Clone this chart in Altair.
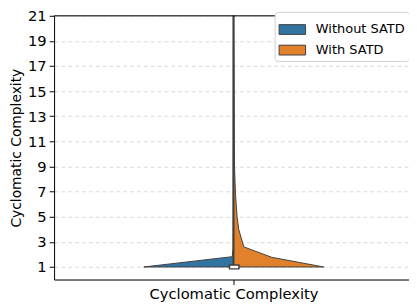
import altair as alt
import pandas as pd

# Data (split violin, half-widths in relative density units)
groups = ["Without SATD", "With SATD"]
colors = ["#3274a1", "#e1812c"]

blue_values = [1.0, 1.82, 2.5, 21.0]
blue_density = [1.0, 0.014, 0.005, 0.002]

orange_values = [1.0, 1.77, 2.6, 4.0, 5.0, 6.8, 9.0, 21.0]
orange_density = [1.005, 0.426, 0.115, 0.058, 0.040, 0.022, 0.011, 0.003]

whisker_low = 1.0
whisker_high = 21.0
box_low = 0.85
box_high = 1.15

y_ticks = [1, 3, 5, 7, 9, 11, 13, 15, 17, 19, 21]
x_label = "Cyclomatic Complexity"

rows = []
for v, d in zip(blue_values, blue_density):
    rows.append({"value": v, "lo": -d, "hi": 0.0, "group": groups[0]})
for v, d in zip(orange_values, orange_density):
    rows.append({"value": v, "lo": 0.0, "hi": d, "group": groups[1]})
df = pd.DataFrame(rows)

FONT = "DejaVu Sans"
x_scale = alt.Scale(domain=[-2.0, 1.956], nice=False, zero=False)
y_scale = alt.Scale(domain=[0, 21], nice=False, zero=False)

symbol_path = "M-1,-0.37L1,-0.37L1,0.37L-1,0.37Z"

violin = alt.Chart(df).mark_area(
    orient="horizontal", stroke="#3f3f3f", strokeWidth=1, opacity=1, fillOpacity=1
).encode(
    y=alt.Y("value:Q", scale=y_scale,
            axis=alt.Axis(values=y_ticks, tickCount=21, title="Cyclomatic Complexity",
                          grid=True, gridDash=[4, 3], gridColor="#cfcfcf",
                          gridWidth=0.8, tickSize=5, tickColor="black",
                          domainColor="black", labelFontSize=15,
                          titleFontSize=14.1, titleFontWeight="normal",
                          labelPadding=3, titlePadding=4, labelColor="black",
                          titleColor="black", labelFont=FONT, titleFont=FONT,
                          labelOverlap=False)),
    x=alt.X("lo:Q", scale=x_scale, stack=None,
            axis=alt.Axis(values=[0], labelExpr=f"'{x_label}'", title=None,
                          grid=False, tickSize=5, tickColor="black",
                          domainColor="black", labelFontSize=15,
                          labelPadding=2, labelColor="black", labelFont=FONT)),
    x2="hi:Q",
    color=alt.Color("group:N", sort=groups,
                    scale=alt.Scale(domain=groups, range=colors),
                    legend=alt.Legend(title=None, orient="none",
                                      legendX=225, legendY=-4,
                                      symbolType=symbol_path, symbolSize=729,
                                      symbolStrokeColor="#3f3f3f",
                                      symbolStrokeWidth=1, symbolOpacity=1,
                                      labelFontSize=13.2, labelFont=FONT,
                                      labelColor="black", labelOffset=10,
                                      labelLimit=300,
                                      padding=4, fillColor="white",
                                      strokeColor="#d0d0d0", cornerRadius=3,
                                      rowPadding=0)),
)

whisker_df = pd.DataFrame({"low": [whisker_low], "high": [whisker_high], "c": [0.0]})
whisker = alt.Chart(whisker_df).mark_rule(color="#3f3f3f", strokeWidth=2).encode(
    x=alt.X("c:Q", scale=x_scale), y=alt.Y("low:Q", scale=y_scale), y2="high:Q"
)

box_df = pd.DataFrame({"low": [box_low], "high": [box_high],
                       "l": [-0.045], "r": [0.06]})
box = alt.Chart(box_df).mark_rect(fill="white", stroke="#3f3f3f", strokeWidth=1.5).encode(
    x=alt.X("l:Q", scale=x_scale), x2="r:Q",
    y=alt.Y("low:Q", scale=y_scale), y2="high:Q"
)

top_df = pd.DataFrame({"top": [21.0]})
top_line = alt.Chart(top_df).mark_rule(color="black", strokeWidth=1).encode(
    y=alt.Y("top:Q", scale=y_scale)
)

chart = alt.layer(violin, whisker, box, top_line).properties(
    width=362, height=269,
    autosize=alt.AutoSizeParams(type="none"),
    padding={"left": 47, "top": 5, "right": 0, "bottom": 22},
).configure_view(stroke=None).configure(font=FONT)

chart.save("out.html", embed_options={"renderer": "svg", "actions": False})
